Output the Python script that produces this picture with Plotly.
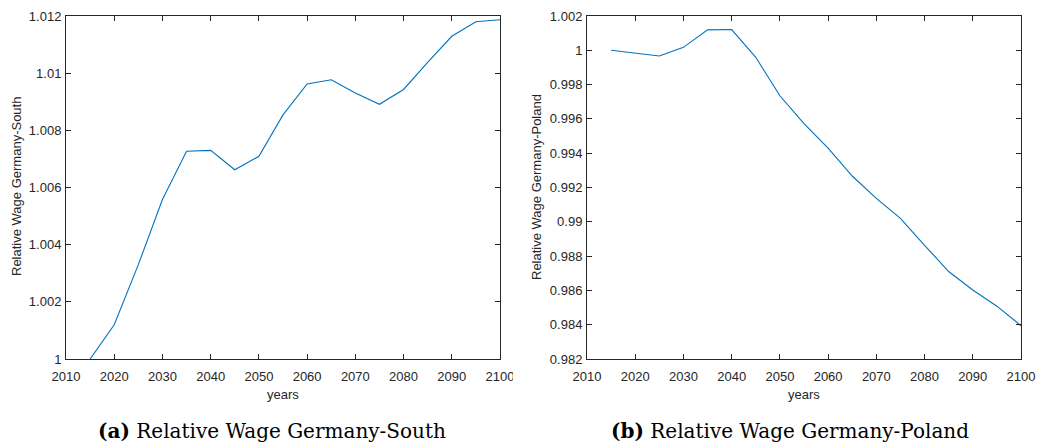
import plotly.graph_objects as go

years = [2015, 2020, 2025, 2030, 2035, 2040, 2045, 2050, 2055, 2060,
         2065, 2070, 2075, 2080, 2085, 2090, 2095, 2100]
wage_south = [1.0000, 1.0012, 1.0033, 1.00558, 1.00727, 1.00730, 1.00662, 1.00709,
              1.00854, 1.00962, 1.00977, 1.00931, 1.00891, 1.00943, 1.01038,
              1.01129, 1.01180, 1.01187]
wage_poland = [1.0000, 0.99983, 0.99967, 1.00017, 1.00119, 1.00121, 0.99959, 0.99735,
               0.99573, 0.99429, 0.99267, 0.99137, 0.99020, 0.98863, 0.98710,
               0.98602, 0.98508, 0.98394]

x_ticks = [2010, 2020, 2030, 2040, 2050, 2060, 2070, 2080, 2090, 2100]
south_ticks = [1.0, 1.002, 1.004, 1.006, 1.008, 1.01, 1.012]
south_labels = ["1", "1.002", "1.004", "1.006", "1.008", "1.01", "1.012"]
poland_ticks = [0.982, 0.984, 0.986, 0.988, 0.99, 0.992, 0.994, 0.996, 0.998, 1.0, 1.002]
poland_labels = ["0.982", "0.984", "0.986", "0.988", "0.99", "0.992", "0.994",
                 "0.996", "0.998", "1", "1.002"]

W, H = 1043, 448
AX = "#262626"
LINE = "#0072BD"
SANS = "Liberation Sans, Arial, sans-serif"
SERIF = "DejaVu Serif, Liberation Serif, serif"

fig = go.Figure()
fig.add_trace(go.Scatter(x=years, y=wage_south, mode="lines",
                         line=dict(color=LINE, width=1.1), xaxis="x", yaxis="y",
                         showlegend=False))
fig.add_trace(go.Scatter(x=years, y=wage_poland, mode="lines",
                         line=dict(color=LINE, width=1.1), xaxis="x2", yaxis="y2",
                         showlegend=False))

ydom = [1 - 359 / H, 1 - 16 / H]
common_axis = dict(showline=True, linecolor=AX, linewidth=1, mirror="ticks",
                   ticks="inside", ticklen=5, tickwidth=1, tickcolor=AX,
                   showgrid=False, zeroline=False, automargin=False,
                   tickfont=dict(family=SANS, size=13, color=AX))

def txt(text, x, y, size, family, color=AX, angle=0):
    return dict(text=text, x=x / W, y=1 - y / H, xref="paper", yref="paper",
                showarrow=False, xanchor="center", yanchor="middle", textangle=angle,
                font=dict(family=family, size=size, color=color))

fig.update_layout(
    width=W, height=H,
    margin=dict(l=0, r=0, t=0, b=0, autoexpand=False),
    paper_bgcolor="white", plot_bgcolor="white",
    xaxis=dict(domain=[66 / W, 500 / W], range=[2010, 2100], tickvals=x_ticks,
               anchor="y", ticklabelstandoff=5, **common_axis),
    yaxis=dict(domain=ydom, range=[1.0, 1.012], tickvals=south_ticks, ticktext=south_labels,
               anchor="x", ticklabelstandoff=1, **common_axis),
    xaxis2=dict(domain=[587 / W, 1021 / W], range=[2010, 2100], tickvals=x_ticks,
                anchor="y2", ticklabelstandoff=5, **common_axis),
    yaxis2=dict(domain=ydom, range=[0.982, 1.002], tickvals=poland_ticks, ticktext=poland_labels,
                anchor="x2", ticklabelstandoff=1, **common_axis),
    annotations=[
        txt("years", 283, 394, 13, SANS),
        txt("years", 804, 394, 13, SANS),
        txt("Relative Wage Germany-South", 16, 187, 13, SANS, angle=-90),
        txt("Relative Wage Germany-Poland", 536, 187, 13, SANS, angle=-90),
        txt("<b>(a)</b> Relative Wage Germany-South", 272, 431, 20, SERIF, color="black"),
        txt("<b>(b)</b> Relative Wage Germany-Poland", 790, 431, 20, SERIF, color="black"),
    ],
    shapes=[dict(type="rect", xref="paper", yref="paper", x0=513 / W, x1=524 / W,
                 y0=1 - 385 / H, y1=1 - 362 / H, fillcolor="white", line=dict(width=0),
                 layer="above")],
)

fig.write_html("out.html", config={"displayModeBar": False},
               post_script="document.body.style.margin='0';")
